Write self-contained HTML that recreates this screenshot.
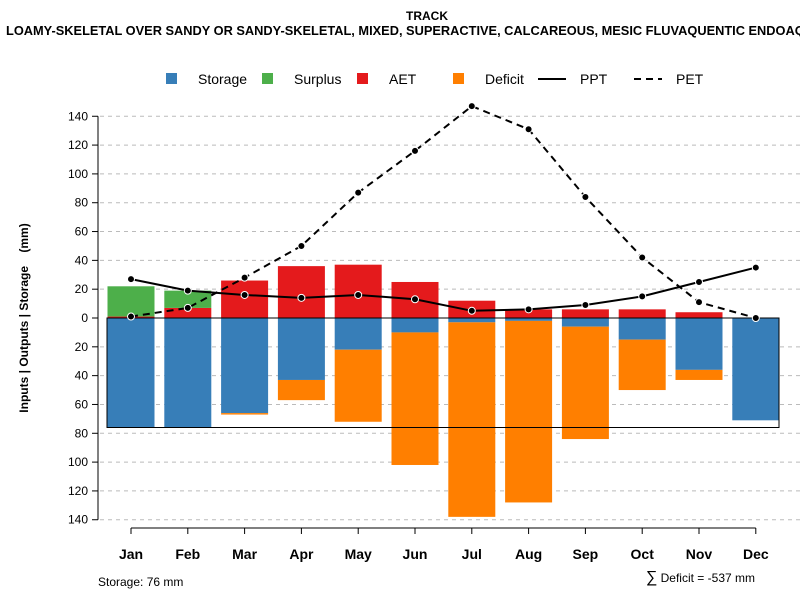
<!DOCTYPE html>
<html><head><meta charset="utf-8"><style>
body{margin:0;background:#fff;}
svg{font-family:"Liberation Sans",sans-serif;display:block}
</style></head><body>
<svg id="chart" width="800" height="600" viewBox="0 0 800 600">
<text x="427" y="20" text-anchor="middle" font-size="12" font-weight="bold">TRACK</text>
<text x="6" y="35" font-size="12.8" font-weight="bold">LOAMY-SKELETAL OVER SANDY OR SANDY-SKELETAL, MIXED, SUPERACTIVE, CALCAREOUS, MESIC FLUVAQUENTIC ENDOAQUOLLS</text>
<g id="grid"></g>
<g id="bars"></g>
<g id="lines"></g>
<g id="axes"></g>
<g font-size="14">
<rect x="166" y="73" width="11" height="11" fill="#377eb8"/>
<text x="198" y="84">Storage</text>
<rect x="262" y="73" width="11" height="11" fill="#4daf4a"/>
<text x="294" y="84">Surplus</text>
<rect x="357" y="73" width="11" height="11" fill="#e41a1c"/>
<text x="389" y="84">AET</text>
<rect x="453" y="73" width="11" height="11" fill="#ff7f00"/>
<text x="485" y="84">Deficit</text>
<line x1="538" y1="79" x2="566" y2="79" stroke="#000" stroke-width="2"/>
<text x="580" y="84">PPT</text>
<line x1="634" y1="79" x2="662" y2="79" stroke="#000" stroke-width="2" stroke-dasharray="7,5"/>
<text x="676" y="84">PET</text>
</g>
<text transform="translate(28,318) rotate(-90)" text-anchor="middle" font-size="12" font-weight="bold">Inputs | Outputs | Storage&#160;&#160;&#160;&#160;(mm)</text>
<text x="98" y="586" font-size="12">Storage: 76 mm</text>
<text x="755" y="582" text-anchor="end" font-size="12"><tspan font-size="16">∑</tspan> Deficit = -537 mm</text>
</svg>
<script>
const months=["Jan","Feb","Mar","Apr","May","Jun","Jul","Aug","Sep","Oct","Nov","Dec"];
const storage=[76,76,66,43,22,10,3,2,6,15,36,71];
const deficit=[0,0,1,14,50,92,135,126,78,35,7,0];
const aet=[1,7,26,36,37,25,12,6,6,6,4,0];
const surplus=[21,12,0,0,0,0,0,0,0,0,0,0];
const ppt=[27,19,16,14,16,13,5,6,9,15,25,35];
const pet=[1,7,28,50,87,116,147,131,84,42,11,0];
const yTicks=[140,120,100,80,60,40,20,0,20,40,60,80,100,120,140];
const maxStorage=76;
const NS="http://www.w3.org/2000/svg";
const y0=318, k=1.441;
const y=v=>y0-v*k;
const x=i=>131+i*56.8;
const bw=47;
function mk(p,t,a){const e=document.createElementNS(NS,t);for(const q in a)e.setAttribute(q,a[q]);document.getElementById(p).appendChild(e);return e;}
yTicks.forEach((t,i)=>{const v=140-i*20;const yy=y(v);
 if(v!==0){const g=mk('grid','line',{x1:100,x2:800,y1:yy,y2:yy,stroke:'#bbb','stroke-dasharray':'4,4'});
 
 }
 const tk=mk('axes','line',{x1:92,x2:98,y1:yy,y2:yy,stroke:'#000'});
 
 
 const tx=mk('axes','text',{x:88,y:yy+4,'text-anchor':'end','font-size':12});tx.textContent=t;
 
 
});
const ya=mk('axes','line',{x1:98,x2:98,y1:y(140),y2:y(-140),stroke:'#000'});


const xa=mk('axes','line',{x1:x(0),x2:x(11),y1:528,y2:528,stroke:'#000'});


months.forEach((m,i)=>{
 const tk=mk('axes','line',{x1:x(i),x2:x(i),y1:528,y2:534,stroke:'#000'});
 
 
 const t=mk('axes','text',{x:x(i),y:559,'text-anchor':'middle','font-size':14,'font-weight':'bold'});t.textContent=m;
 
 
 const l=x(i)-bw/2;
 const s=mk('bars','rect',{x:l,y:y0,width:bw,height:storage[i]*k,fill:'#377eb8'});
 
 
 const d=mk('bars','rect',{x:l,y:y(-storage[i]),width:bw,height:deficit[i]*k,fill:'#ff7f00'});
 
 
 const a=mk('bars','rect',{x:l,y:y(aet[i]),width:bw,height:aet[i]*k,fill:'#e41a1c'});
 
 
 const su=mk('bars','rect',{x:l,y:y(aet[i]+surplus[i]),width:bw,height:surplus[i]*k,fill:'#4daf4a'});
 
 
});
const bx=mk('bars','path',{d:`M107 ${y0} H779 V${y(-maxStorage)} H107 Z`,fill:'none',stroke:'#000','stroke-width':1});


[[ppt,'ppt',''],[pet,'pet','7,5']].forEach(([arr,n,da])=>{
 const pl=mk('lines','polyline',{points:arr.map((v,i)=>x(i)+','+y(v)).join(' '),fill:'none',stroke:'#000','stroke-width':2,'stroke-dasharray':da});
 
 
 arr.forEach((v,i)=>{const c=mk('lines','circle',{cx:x(i),cy:y(v),r:3.5,fill:'#000',stroke:'#fff','stroke-width':1});
 
 });
});
</script>
</body></html>
